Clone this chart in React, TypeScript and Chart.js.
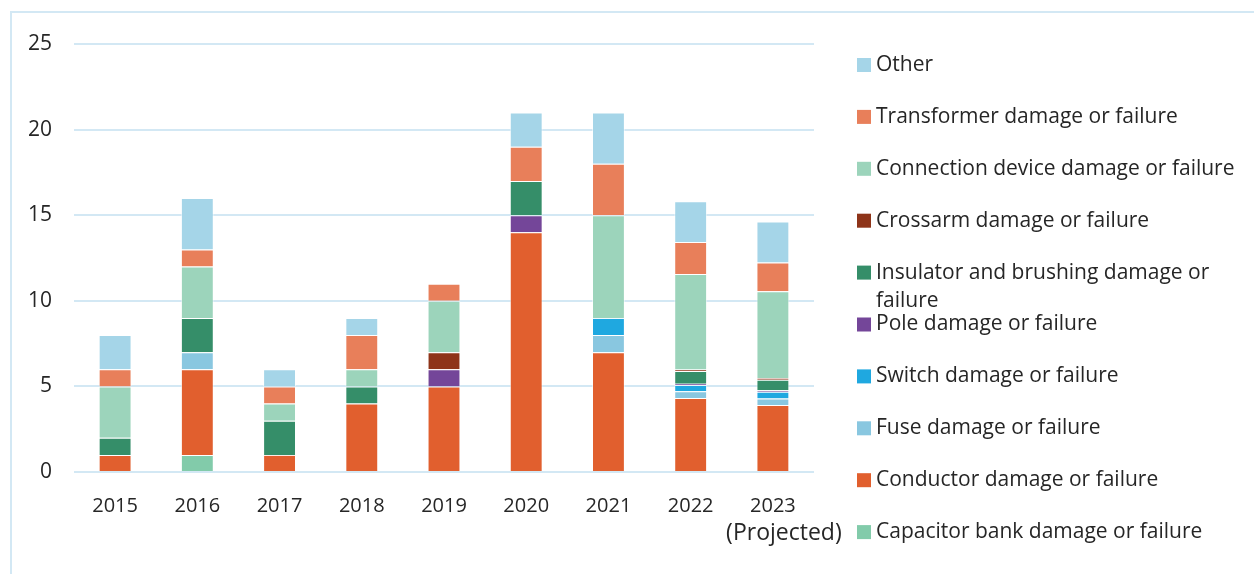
import React, { useEffect, useRef } from "react";
import { Chart, registerables } from "chart.js";

Chart.register(...registerables);

const years = ["2015", "2016", "2017", "2018", "2019", "2020", "2021", "2022", "2023"];
const projectedNote = "(Projected)";

const capacitorBank = [0, 1, 0, 0, 0, 0, 0, 0, 0];
const conductor = [1, 5, 1, 4, 5, 14, 7, 4.32, 3.91];
const fuse = [0, 1, 0, 0, 0, 0, 1, 0.39, 0.39];
const switchDev = [0, 0, 0, 0, 0, 0, 1, 0.37, 0.39];
const pole = [0, 0, 0, 0, 1, 1, 0, 0.08, 0.08];
const insulator = [1, 2, 2, 1, 0, 2, 0, 0.74, 0.62];
const crossarm = [0, 0, 0, 0, 1, 0, 0, 0.08, 0.1];
const connection = [3, 3, 1, 1, 3, 0, 6, 5.59, 5.07];
const transformer = [1, 1, 1, 2, 1, 2, 3, 1.86, 1.68];
const other = [2, 3, 1, 1, 0, 2, 3, 2.38, 2.39];

const seriesNames = [
  "Capacitor bank damage or failure",
  "Conductor damage or failure",
  "Fuse damage or failure",
  "Switch damage or failure",
  "Pole damage or failure",
  "Insulator and brushing damage or failure",
  "Crossarm damage or failure",
  "Connection device damage or failure",
  "Transformer damage or failure",
  "Other",
];
const seriesValues = [capacitorBank, conductor, fuse, switchDev, pole, insulator, crossarm, connection, transformer, other];
const seriesColors = ["#82cbaa", "#e15f2e", "#89c7e0", "#1fa8e0", "#744699", "#358e69", "#8e3419", "#9cd4bb", "#e87f5a", "#a5d5e8"];

const yTicks = [0, 5, 10, 15, 20, 25];

const FONT = "'Open Sans', 'Noto Sans', sans-serif";

const legendPlugin = {
  id: "customLegend",
  afterDraw(chart: any) {
    const ctx = chart.ctx;
    ctx.save();
    ctx.font = `21px ${FONT}`;
    ctx.textBaseline = "middle";
    ctx.textAlign = "left";
    const n = seriesNames.length;
    for (let k = 0; k < n; k++) {
      const i = n - 1 - k;
      const y = 65 + k * 51.9;
      ctx.fillStyle = seriesColors[i];
      ctx.fillRect(857, y - 7, 14, 14);
      ctx.fillStyle = "#262626";
      const name = seriesNames[i];
      if (name.startsWith("Insulator")) {
        ctx.fillText("Insulator and brushing damage or", 876, y);
        ctx.fillText("failure", 876, y + 28);
      } else {
        ctx.fillText(name, 876, y);
      }
    }
    // note under the last category label
    const xs = chart.scales.x;
    const px = xs.getPixelForTick(years.length - 1);
    ctx.font = `23px ${FONT}`;
    ctx.textAlign = "center";
    ctx.fillText(projectedNote, px + 11, 533);
    ctx.restore();
  },
};

export default function App() {
  const ref = useRef<HTMLCanvasElement>(null);
  useEffect(() => {
    document.body.style.margin = "0";
    const chart = new Chart(ref.current as HTMLCanvasElement, {
      type: "bar",
      data: {
        labels: years,
        datasets: seriesNames.map((name, i) => ({
          label: name,
          data: seriesValues[i],
          backgroundColor: seriesColors[i],
          borderColor: "rgba(255,255,255,0.55)",
          borderWidth: 1,
          barPercentage: 0.8,
          categoryPercentage: 0.5,
        })),
      },
      options: {
        animation: false,
        responsive: true,
        maintainAspectRatio: false,
        layout: { padding: { left: 0, right: 440, top: 44, bottom: 0 } },
        plugins: { legend: { display: false }, tooltip: { enabled: false } },
        scales: {
          x: {
            stacked: true,
            grid: { display: false },
            border: { display: false },
            ticks: { color: "#262626", font: { family: FONT, size: 20, lineHeight: 1.4 }, padding: 12, maxRotation: 0, minRotation: 0, autoSkip: false },
            afterFit: (s: any) => { s.height = 102; },
          },
          y: {
            stacked: true,
            min: 0,
            max: 25,
            afterBuildTicks: (s: any) => { s.ticks = yTicks.map((v) => ({ value: v })); },
            grid: { color: "#d3e8f4", lineWidth: 2, drawTicks: false },
            border: { display: false },
            ticks: { color: "#262626", font: { family: FONT, size: 21 }, padding: 22 },
            afterFit: (s: any) => { s.width = 74; },
          },
        },
      },
      plugins: [legendPlugin],
    });
    return () => chart.destroy();
  }, []);
  return (
    <div style={{ position: "relative", width: 1254, height: 574, background: "#fff" }}>
      <div style={{ position: "absolute", left: 10, top: 11, right: 0, bottom: 0, borderLeft: "2px solid #d3e8f4", borderTop: "2px solid #d3e8f4" }} />
      <canvas ref={ref} style={{ position: "absolute", left: 0, top: 0 }} />
    </div>
  );
}
